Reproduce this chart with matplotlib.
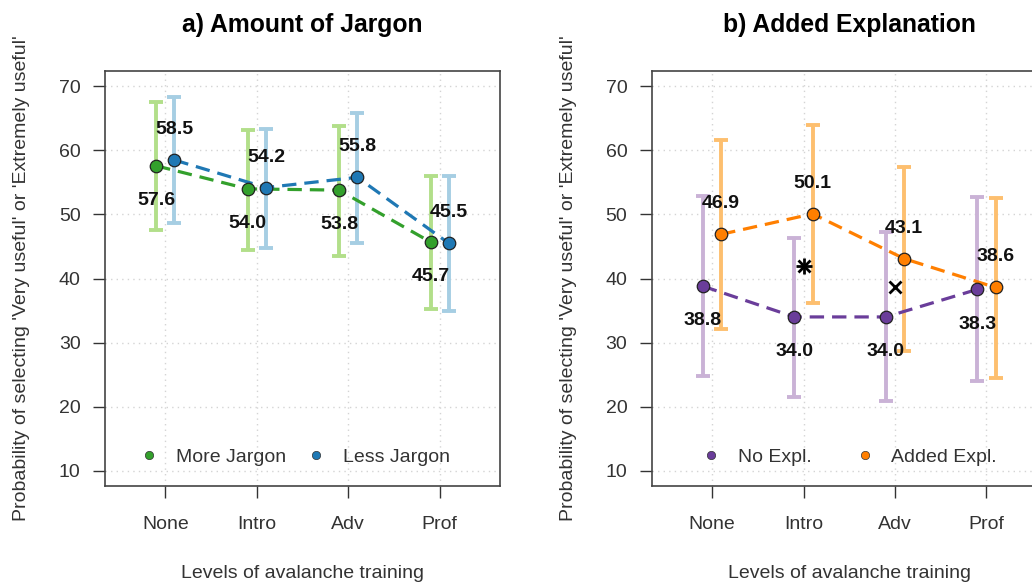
import matplotlib
matplotlib.use("Agg")
import matplotlib.pyplot as plt
import numpy as np

plt.rcParams['font.family'] = ['Liberation Sans', 'DejaVu Sans']

levels = ["None", "Intro", "Adv", "Prof"]

# panel a
more_jargon = [57.6, 54.0, 53.8, 45.7]
more_jargon_lo = [47.5, 44.5, 43.5, 35.2]
more_jargon_hi = [67.6, 63.2, 63.8, 56.0]
less_jargon = [58.5, 54.2, 55.8, 45.5]
less_jargon_lo = [48.6, 44.7, 45.6, 34.9]
less_jargon_hi = [68.4, 63.4, 65.8, 56.0]

# panel b
no_expl = [38.8, 34.0, 34.0, 38.3]
no_expl_lo = [24.7, 21.5, 20.8, 24.0]
no_expl_hi = [52.9, 46.4, 47.3, 52.7]
added_expl = [46.9, 50.1, 43.1, 38.6]
added_expl_lo = [32.1, 36.2, 28.7, 24.5]
added_expl_hi = [61.6, 64.0, 57.4, 52.5]

# significance marks in panel b (star at Intro, cross at Adv)
sig_star = (2, 42.0)
sig_cross = (3, 38.6)

TXT = '#333333'


def draw_series(ax, xs, vals, lo, hi, light, dark, label, below):
    vals = np.array(vals)
    ax.errorbar(xs, vals, yerr=[vals - np.array(lo), np.array(hi) - vals],
                fmt='none', ecolor=light, elinewidth=2.8, capsize=5,
                capthick=2.8, zorder=2)
    ax.plot(xs, vals, ls=(0, (4.5, 2.5)), color=dark, lw=2.3, zorder=3)
    ax.plot(xs, vals, 'o', ms=9, mfc=dark, mec='#222222', mew=0.9, zorder=4,
            label=label)
    off = -25 if below else 22
    for x, v in zip(xs, vals):
        ax.annotate(f"{v:.1f}", (x, v), xytext=(0, off), textcoords='offset points',
                    ha='center', va='center', fontsize=14, fontweight='bold',
                    color='#111111', zorder=5)


def setup(ax, title, col_space, leg_x):
    ax.set_xlim(0.34, 4.66)
    ax.set_ylim(7.6, 72.4)
    ax.set_xticks([1, 2, 3, 4])
    ax.set_xticklabels(levels)
    ax.set_yticks(range(10, 71, 10))
    ax.grid(True, color='#d4d4d4', ls=(0, (1, 3)), lw=1)
    ax.set_axisbelow(True)
    ax.tick_params(length=8.6, width=1, color=TXT, labelsize=14, labelcolor=TXT)
    ax.tick_params(axis='x', pad=13)
    ax.tick_params(axis='y', pad=9)
    for s in ax.spines.values():
        s.set_color('#444444')
        s.set_linewidth(1.2)
    ax.set_title(title, fontsize=17.8, fontweight='bold', pad=28)
    ax.set_ylabel("Probability of selecting 'Very useful' or 'Extremely useful'",
                  fontsize=14, color=TXT)
    ax.yaxis.set_label_coords(-0.19, 0.5)
    ax.set_xlabel("Levels of avalanche training", fontsize=14, color=TXT)
    ax.xaxis.set_label_coords(0.5, -0.19)
    h, l = ax.get_legend_handles_labels()
    small = []
    for hh in h:
        m = plt.Line2D([], [], ls='none', marker='o', ms=6, mfc=hh.get_mfc(),
                       mec='#333333', mew=0.5)
        small.append(m)
    ax.legend(small, l, loc='center', bbox_to_anchor=(leg_x, 0.07), ncol=2,
              frameon=False, fontsize=14, handlelength=1, handletextpad=0.87,
              columnspacing=col_space, labelcolor=TXT)


fig = plt.figure(figsize=(10.32, 5.84), dpi=100)
ax1 = fig.add_axes([0.1017, 0.1678, 0.3828, 0.7106])
ax2 = fig.add_axes([0.6315, 0.1678, 0.3828, 0.7106])

x = np.arange(1, 5)
draw_series(ax1, x - 0.1, more_jargon, more_jargon_lo, more_jargon_hi,
            '#b2df8a', '#33a02c', 'More Jargon', True)
draw_series(ax1, x + 0.1, less_jargon, less_jargon_lo, less_jargon_hi,
            '#a6cee3', '#1f78b4', 'Less Jargon', False)
setup(ax1, "a) Amount of Jargon", 1.05, 0.48)

draw_series(ax2, x - 0.1, no_expl, no_expl_lo, no_expl_hi,
            '#cab2d6', '#6a3d9a', 'No Expl.', True)
draw_series(ax2, x + 0.1, added_expl, added_expl_lo, added_expl_hi,
            '#fdbf6f', '#ff7f00', 'Added Expl.', False)
ax2.plot(*sig_star, marker='+', ms=11, mew=2, color='black', zorder=5)
ax2.plot(*sig_star, marker='x', ms=8, mew=2, color='black', zorder=5)
ax2.plot(*sig_cross, marker='x', ms=8, mew=2, color='black', zorder=5)
setup(ax2, "b) Added Explanation", 2.23, 0.5)

fig.savefig("out.png", dpi=100)
